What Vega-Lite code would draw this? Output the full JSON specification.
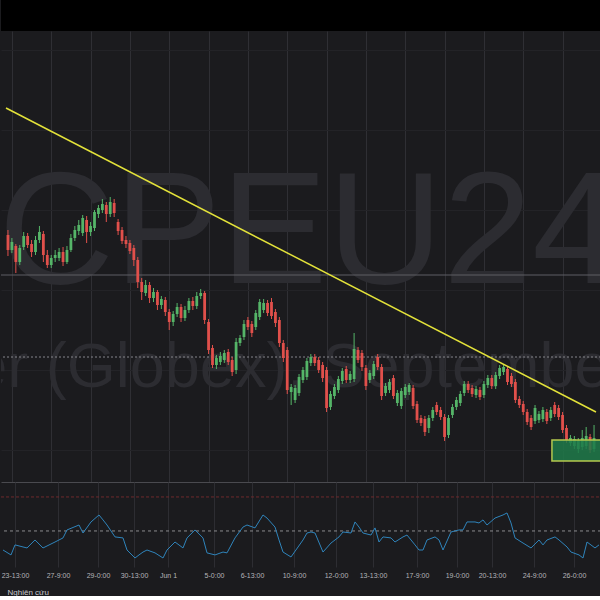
{
  "$schema": "https://vega.github.io/schema/vega-lite/v6.json",
  "padding": 0,
  "spacing": 0,
  "background": "#1b1b1e",
  "config": {
    "view": {"stroke": null},
    "font": "Liberation Sans"
  },
  "datasets": {
    "one": [{"k": 1}],
    "candles": [
      {"i":0,"o":4.965,"h":4.970,"l":4.944,"c":4.950},
      {"i":1,"o":4.950,"h":4.962,"l":4.947,"c":4.958},
      {"i":2,"o":4.954,"h":4.956,"l":4.927,"c":4.938},
      {"i":3,"o":4.938,"h":4.955,"l":4.935,"c":4.952},
      {"i":4,"o":4.953,"h":4.968,"l":4.950,"c":4.964},
      {"i":5,"o":4.964,"h":4.967,"l":4.952,"c":4.955},
      {"i":6,"o":4.956,"h":4.960,"l":4.943,"c":4.948},
      {"i":7,"o":4.948,"h":4.964,"l":4.945,"c":4.960},
      {"i":8,"o":4.960,"h":4.974,"l":4.957,"c":4.968},
      {"i":9,"o":4.966,"h":4.969,"l":4.938,"c":4.945},
      {"i":10,"o":4.945,"h":4.950,"l":4.932,"c":4.935},
      {"i":11,"o":4.935,"h":4.945,"l":4.932,"c":4.942},
      {"i":12,"o":4.942,"h":4.950,"l":4.938,"c":4.945},
      {"i":13,"o":4.942,"h":4.952,"l":4.939,"c":4.948},
      {"i":14,"o":4.948,"h":4.953,"l":4.934,"c":4.938},
      {"i":15,"o":4.938,"h":4.954,"l":4.936,"c":4.950},
      {"i":16,"o":4.950,"h":4.966,"l":4.948,"c":4.962},
      {"i":17,"o":4.962,"h":4.974,"l":4.959,"c":4.970},
      {"i":18,"o":4.969,"h":4.980,"l":4.965,"c":4.975},
      {"i":19,"o":4.967,"h":4.985,"l":4.964,"c":4.982},
      {"i":20,"o":4.980,"h":4.984,"l":4.957,"c":4.968},
      {"i":21,"o":4.968,"h":4.978,"l":4.964,"c":4.974},
      {"i":22,"o":4.972,"h":4.990,"l":4.969,"c":4.988},
      {"i":23,"o":4.986,"h":4.995,"l":4.982,"c":4.992},
      {"i":24,"o":4.990,"h":5.001,"l":4.987,"c":4.996},
      {"i":25,"o":4.995,"h":4.998,"l":4.978,"c":4.986},
      {"i":26,"o":4.986,"h":5.003,"l":4.983,"c":4.998},
      {"i":27,"o":4.997,"h":5.001,"l":4.983,"c":4.987},
      {"i":28,"o":4.978,"h":4.981,"l":4.965,"c":4.969},
      {"i":29,"o":4.970,"h":4.973,"l":4.956,"c":4.959},
      {"i":30,"o":4.960,"h":4.964,"l":4.952,"c":4.956},
      {"i":31,"o":4.957,"h":4.960,"l":4.946,"c":4.949},
      {"i":32,"o":4.952,"h":4.955,"l":4.934,"c":4.940},
      {"i":33,"o":4.940,"h":4.943,"l":4.912,"c":4.918},
      {"i":34,"o":4.918,"h":4.922,"l":4.900,"c":4.908},
      {"i":35,"o":4.907,"h":4.920,"l":4.904,"c":4.915},
      {"i":36,"o":4.915,"h":4.918,"l":4.897,"c":4.902},
      {"i":37,"o":4.902,"h":4.912,"l":4.898,"c":4.908},
      {"i":38,"o":4.908,"h":4.910,"l":4.890,"c":4.895},
      {"i":39,"o":4.895,"h":4.904,"l":4.891,"c":4.901},
      {"i":40,"o":4.900,"h":4.903,"l":4.884,"c":4.888},
      {"i":41,"o":4.888,"h":4.891,"l":4.870,"c":4.878},
      {"i":42,"o":4.878,"h":4.889,"l":4.874,"c":4.886},
      {"i":43,"o":4.886,"h":4.897,"l":4.883,"c":4.893},
      {"i":44,"o":4.893,"h":4.896,"l":4.878,"c":4.882},
      {"i":45,"o":4.882,"h":4.894,"l":4.879,"c":4.890},
      {"i":46,"o":4.890,"h":4.902,"l":4.887,"c":4.899},
      {"i":47,"o":4.899,"h":4.903,"l":4.890,"c":4.894},
      {"i":48,"o":4.894,"h":4.908,"l":4.891,"c":4.904},
      {"i":49,"o":4.904,"h":4.911,"l":4.901,"c":4.907},
      {"i":50,"o":4.907,"h":4.909,"l":4.876,"c":4.880},
      {"i":51,"o":4.878,"h":4.881,"l":4.846,"c":4.850},
      {"i":52,"o":4.852,"h":4.855,"l":4.832,"c":4.835},
      {"i":53,"o":4.835,"h":4.845,"l":4.831,"c":4.842},
      {"i":54,"o":4.838,"h":4.848,"l":4.835,"c":4.844},
      {"i":55,"o":4.840,"h":4.850,"l":4.837,"c":4.847},
      {"i":56,"o":4.848,"h":4.851,"l":4.835,"c":4.838},
      {"i":57,"o":4.840,"h":4.843,"l":4.824,"c":4.828},
      {"i":58,"o":4.830,"h":4.862,"l":4.826,"c":4.858},
      {"i":59,"o":4.857,"h":4.865,"l":4.854,"c":4.862},
      {"i":60,"o":4.863,"h":4.880,"l":4.860,"c":4.876},
      {"i":61,"o":4.880,"h":4.883,"l":4.870,"c":4.873},
      {"i":62,"o":4.876,"h":4.879,"l":4.863,"c":4.867},
      {"i":63,"o":4.873,"h":4.890,"l":4.870,"c":4.887},
      {"i":64,"o":4.883,"h":4.901,"l":4.880,"c":4.898},
      {"i":65,"o":4.890,"h":4.901,"l":4.887,"c":4.897},
      {"i":66,"o":4.897,"h":4.900,"l":4.884,"c":4.887},
      {"i":67,"o":4.898,"h":4.902,"l":4.881,"c":4.884},
      {"i":68,"o":4.888,"h":4.891,"l":4.873,"c":4.877},
      {"i":69,"o":4.880,"h":4.883,"l":4.853,"c":4.857},
      {"i":70,"o":4.857,"h":4.860,"l":4.838,"c":4.842},
      {"i":71,"o":4.850,"h":4.853,"l":4.806,"c":4.810},
      {"i":72,"o":4.808,"h":4.816,"l":4.795,"c":4.813},
      {"i":73,"o":4.800,"h":4.815,"l":4.797,"c":4.812},
      {"i":74,"o":4.807,"h":4.826,"l":4.804,"c":4.823},
      {"i":75,"o":4.820,"h":4.833,"l":4.817,"c":4.830},
      {"i":76,"o":4.823,"h":4.842,"l":4.820,"c":4.839},
      {"i":77,"o":4.837,"h":4.846,"l":4.834,"c":4.843},
      {"i":78,"o":4.843,"h":4.846,"l":4.834,"c":4.837},
      {"i":79,"o":4.840,"h":4.843,"l":4.827,"c":4.830},
      {"i":80,"o":4.835,"h":4.838,"l":4.818,"c":4.822},
      {"i":81,"o":4.830,"h":4.833,"l":4.788,"c":4.792},
      {"i":82,"o":4.793,"h":4.809,"l":4.790,"c":4.806},
      {"i":83,"o":4.804,"h":4.816,"l":4.801,"c":4.813},
      {"i":84,"o":4.810,"h":4.824,"l":4.807,"c":4.821},
      {"i":85,"o":4.819,"h":4.832,"l":4.816,"c":4.829},
      {"i":86,"o":4.831,"h":4.834,"l":4.817,"c":4.820},
      {"i":87,"o":4.820,"h":4.829,"l":4.817,"c":4.826},
      {"i":88,"o":4.821,"h":4.867,"l":4.818,"c":4.851},
      {"i":89,"o":4.850,"h":4.853,"l":4.837,"c":4.840},
      {"i":90,"o":4.847,"h":4.850,"l":4.829,"c":4.833},
      {"i":91,"o":4.832,"h":4.835,"l":4.810,"c":4.814},
      {"i":92,"o":4.820,"h":4.830,"l":4.817,"c":4.827},
      {"i":93,"o":4.824,"h":4.839,"l":4.821,"c":4.836},
      {"i":94,"o":4.843,"h":4.846,"l":4.830,"c":4.833},
      {"i":95,"o":4.833,"h":4.836,"l":4.800,"c":4.804},
      {"i":96,"o":4.807,"h":4.817,"l":4.804,"c":4.814},
      {"i":97,"o":4.810,"h":4.821,"l":4.807,"c":4.818},
      {"i":98,"o":4.822,"h":4.825,"l":4.801,"c":4.804},
      {"i":99,"o":4.797,"h":4.810,"l":4.794,"c":4.807},
      {"i":100,"o":4.794,"h":4.812,"l":4.791,"c":4.809},
      {"i":101,"o":4.805,"h":4.816,"l":4.802,"c":4.813},
      {"i":102,"o":4.808,"h":4.817,"l":4.805,"c":4.815},
      {"i":103,"o":4.812,"h":4.815,"l":4.791,"c":4.794},
      {"i":104,"o":4.796,"h":4.799,"l":4.777,"c":4.780},
      {"i":105,"o":4.782,"h":4.785,"l":4.774,"c":4.777},
      {"i":106,"o":4.781,"h":4.784,"l":4.764,"c":4.768},
      {"i":107,"o":4.772,"h":4.785,"l":4.767,"c":4.782},
      {"i":108,"o":4.782,"h":4.793,"l":4.779,"c":4.790},
      {"i":109,"o":4.795,"h":4.798,"l":4.785,"c":4.788},
      {"i":110,"o":4.790,"h":4.793,"l":4.780,"c":4.783},
      {"i":111,"o":4.783,"h":4.786,"l":4.759,"c":4.763},
      {"i":112,"o":4.765,"h":4.785,"l":4.762,"c":4.782},
      {"i":113,"o":4.785,"h":4.796,"l":4.782,"c":4.793},
      {"i":114,"o":4.793,"h":4.803,"l":4.790,"c":4.800},
      {"i":115,"o":4.797,"h":4.809,"l":4.794,"c":4.806},
      {"i":116,"o":4.807,"h":4.819,"l":4.804,"c":4.816},
      {"i":117,"o":4.816,"h":4.819,"l":4.807,"c":4.810},
      {"i":118,"o":4.812,"h":4.815,"l":4.803,"c":4.806},
      {"i":119,"o":4.805,"h":4.814,"l":4.802,"c":4.811},
      {"i":120,"o":4.810,"h":4.813,"l":4.800,"c":4.803},
      {"i":121,"o":4.805,"h":4.819,"l":4.802,"c":4.816},
      {"i":122,"o":4.815,"h":4.825,"l":4.812,"c":4.822},
      {"i":123,"o":4.822,"h":4.825,"l":4.811,"c":4.814},
      {"i":124,"o":4.814,"h":4.828,"l":4.811,"c":4.825},
      {"i":125,"o":4.824,"h":4.835,"l":4.821,"c":4.832},
      {"i":126,"o":4.828,"h":4.836,"l":4.825,"c":4.833},
      {"i":127,"o":4.831,"h":4.834,"l":4.815,"c":4.818},
      {"i":128,"o":4.824,"h":4.827,"l":4.813,"c":4.816},
      {"i":129,"o":4.818,"h":4.821,"l":4.797,"c":4.800},
      {"i":130,"o":4.801,"h":4.804,"l":4.792,"c":4.795},
      {"i":131,"o":4.796,"h":4.799,"l":4.785,"c":4.788},
      {"i":132,"o":4.788,"h":4.791,"l":4.775,"c":4.778},
      {"i":133,"o":4.782,"h":4.785,"l":4.770,"c":4.773},
      {"i":134,"o":4.779,"h":4.795,"l":4.776,"c":4.792},
      {"i":135,"o":4.780,"h":4.789,"l":4.777,"c":4.786},
      {"i":136,"o":4.781,"h":4.793,"l":4.778,"c":4.790},
      {"i":137,"o":4.788,"h":4.791,"l":4.776,"c":4.779},
      {"i":138,"o":4.782,"h":4.793,"l":4.779,"c":4.790},
      {"i":139,"o":4.795,"h":4.798,"l":4.783,"c":4.786},
      {"i":140,"o":4.792,"h":4.795,"l":4.780,"c":4.783},
      {"i":141,"o":4.785,"h":4.788,"l":4.767,"c":4.770},
      {"i":142,"o":4.772,"h":4.775,"l":4.757,"c":4.760},
      {"i":143,"o":4.757,"h":4.765,"l":4.754,"c":4.762},
      {"i":144,"o":4.754,"h":4.764,"l":4.751,"c":4.761},
      {"i":145,"o":4.751,"h":4.762,"l":4.747,"c":4.759},
      {"i":146,"o":4.753,"h":4.770,"l":4.750,"c":4.762},
      {"i":147,"o":4.754,"h":4.773,"l":4.751,"c":4.764},
      {"i":148,"o":4.763,"h":4.766,"l":4.747,"c":4.750},
      {"i":149,"o":4.751,"h":4.775,"l":4.748,"c":4.762}
    ],
    "osc": [
      {"i":0,"v":38.8},{"i":2,"v":35.9},{"i":3,"v":41.8},{"i":5,"v":40.6},{"i":6,"v":40.0},
      {"i":8,"v":44.7},{"i":10,"v":40.0},{"i":13,"v":43.5},{"i":15,"v":45.9},{"i":16,"v":50.6},
      {"i":19,"v":53.5},{"i":20,"v":48.8},{"i":22,"v":55.3},{"i":24,"v":59.4},{"i":25,"v":56.5},
      {"i":26,"v":53.5},{"i":28,"v":46.5},{"i":30,"v":45.9},{"i":31,"v":38.8},{"i":33,"v":34.1},
      {"i":34,"v":35.9},{"i":35,"v":37.6},{"i":36,"v":38.8},{"i":38,"v":37.1},{"i":40,"v":34.1},
      {"i":41,"v":38.8},{"i":43,"v":43.5},{"i":45,"v":40.0},{"i":46,"v":45.9},{"i":48,"v":50.6},
      {"i":50,"v":45.9},{"i":51,"v":37.1},{"i":53,"v":35.9},{"i":55,"v":37.6},{"i":56,"v":37.1},
      {"i":58,"v":45.9},{"i":60,"v":52.3},{"i":61,"v":53.5},{"i":63,"v":51.8},{"i":65,"v":59.4},
      {"i":66,"v":57.6},{"i":68,"v":52.3},{"i":69,"v":44.7},{"i":70,"v":37.6},{"i":72,"v":34.7},
      {"i":75,"v":44.7},{"i":76,"v":48.8},{"i":77,"v":49.4},{"i":78,"v":48.8},{"i":80,"v":37.6},
      {"i":82,"v":42.9},{"i":84,"v":46.5},{"i":85,"v":49.4},{"i":87,"v":48.8},{"i":88,"v":55.3},
      {"i":89,"v":52.3},{"i":90,"v":48.8},{"i":92,"v":47.6},{"i":93,"v":51.8},{"i":94,"v":43.5},
      {"i":95,"v":46.5},{"i":97,"v":45.9},{"i":98,"v":43.5},{"i":100,"v":46.5},{"i":101,"v":47.6},
      {"i":103,"v":41.8},{"i":104,"v":38.8},{"i":105,"v":38.8},{"i":106,"v":44.7},{"i":108,"v":46.5},
      {"i":109,"v":44.7},{"i":110,"v":38.8},{"i":112,"v":49.4},{"i":114,"v":50.6},{"i":115,"v":50.6},
      {"i":116,"v":55.3},{"i":118,"v":55.3},{"i":119,"v":54.7},{"i":120,"v":56.5},{"i":121,"v":53.5},
      {"i":123,"v":57.6},{"i":125,"v":59.4},{"i":126,"v":60.6},{"i":127,"v":54.7},{"i":128,"v":45.9},
      {"i":130,"v":42.9},{"i":132,"v":40.0},{"i":134,"v":44.7},{"i":135,"v":41.8},{"i":136,"v":44.7},
      {"i":138,"v":46.5},{"i":139,"v":44.7},{"i":141,"v":40.6},{"i":142,"v":37.6},{"i":144,"v":35.9},
      {"i":145,"v":34.1},{"i":146,"v":43.5},{"i":148,"v":40.0},{"i":149,"v":41.8}
    ],
    "trend": [
      {"i":-0.5,"p":5.092},
      {"i":149.5,"p":4.788}
    ],
    "zone": [
      {"i1":138.3,"i2":152,"p1":4.760,"p2":4.739}
    ]
  },
  "vconcat": [
    {
      "width": 600,
      "height": 31,
      "view": {"fill": "#000000", "stroke": null},
      "data": {"name": "one"},
      "mark": {"type": "text", "text": ""}
    },
    {
      "width": 600,
      "height": 451,
      "layer": [
        {
          "data": {"name": "one"},
          "mark": {"type": "text", "text": "CPEU24", "font": "Liberation Sans", "fontSize": 160, "color": "#2c2c31", "align": "center", "baseline": "alphabetic", "clip": true},
          "encoding": {
            "x": {"datum": 76.75, "type": "quantitative", "scale": {"domain": [-0.5, 149.5], "nice": false, "zero": false},
              "axis": {"labels": false, "ticks": false, "title": null, "domain": true, "domainColor": "#4a4a4f",
                "grid": true, "gridColor": "#2f2f34", "gridWidth": 1,
                "values": [1,3.5,6,8.5,11,13.5,16,18.5,21,23.5,26,28.5,31,33.5,36,38.5,41,43.5,46,48.5,51,53.5,56,58.5,61,63.5,66,68.5,71,73.5,76,78.5,81,83.5,86,88.5,91,93.5,96,98.5,101,103.5,106,108.5,111,113.5,116,118.5,121,123.5,126,128.5,131,133.5,136,138.5,141,143.5,146,148.5]}},
            "y": {"datum": 4.917, "type": "quantitative", "scale": {"domain": [4.718, 5.169], "nice": false, "zero": false},
              "axis": {"labels": false, "ticks": false, "title": null, "domain": false, "grid": true, "gridColor": "#232327",
                "values": [4.75, 4.83, 4.91, 4.99, 5.07, 5.15]}}
          }
        },
        {
          "data": {"name": "one"},
          "mark": {"type": "text", "text": "Copper (Globex), September 2024", "font": "Liberation Sans", "fontSize": 63, "color": "#2c2c31", "align": "center", "baseline": "alphabetic", "clip": true},
          "encoding": {
            "x": {"datum": 75.5, "type": "quantitative"},
            "y": {"datum": 4.813, "type": "quantitative"}
          }
        },
        {
          "data": {"name": "one"},
          "mark": {"type": "rule", "color": "#5e5e64", "strokeWidth": 1},
          "encoding": {"y": {"datum": 4.925, "type": "quantitative"}}
        },
        {
          "data": {"name": "one"},
          "mark": {"type": "rule", "color": "#85858b", "strokeWidth": 1, "strokeDash": [2, 2]},
          "encoding": {"y": {"datum": 4.843, "type": "quantitative"}}
        },
        {
          "data": {"name": "candles"},
          "mark": {"type": "rule", "strokeWidth": 1},
          "encoding": {
            "x": {"field": "i", "type": "quantitative"},
            "y": {"field": "l", "type": "quantitative"},
            "y2": {"field": "h"},
            "color": {"condition": {"test": "datum.c < datum.o", "value": "#e1504b"}, "value": "#55b568"}
          }
        },
        {
          "data": {"name": "candles"},
          "mark": {"type": "bar", "width": 2.8, "orient": "vertical"},
          "encoding": {
            "x": {"field": "i", "type": "quantitative"},
            "y": {"field": "o", "type": "quantitative"},
            "y2": {"field": "c"},
            "color": {"condition": {"test": "datum.c < datum.o", "value": "#e1504b"}, "value": "#55b568"}
          }
        },
        {
          "data": {"name": "zone"},
          "mark": {"type": "rect", "fill": "#1f7a4a", "fillOpacity": 0.85, "stroke": "#b4c84e", "strokeWidth": 1.5, "clip": true},
          "encoding": {
            "x": {"field": "i1", "type": "quantitative"},
            "x2": {"field": "i2"},
            "y": {"field": "p1", "type": "quantitative"},
            "y2": {"field": "p2"}
          }
        },
        {
          "data": {"name": "trend"},
          "mark": {"type": "line", "color": "#e3e23a", "strokeWidth": 1.5, "clip": true},
          "encoding": {
            "x": {"field": "i", "type": "quantitative"},
            "y": {"field": "p", "type": "quantitative"}
          }
        }
      ]
    },
    {
      "width": 600,
      "height": 85,
      "layer": [
        {
          "data": {"name": "one"},
          "mark": {"type": "rule", "color": "#6e2a2d", "strokeWidth": 1, "strokeDash": [3, 2]},
          "encoding": {
            "y": {"datum": 70, "type": "quantitative", "scale": {"domain": [28.8, 78.8], "nice": false, "zero": false}, "axis": null},
            "x": {"datum": -0.5, "type": "quantitative", "scale": {"domain": [-0.5, 149.5], "nice": false, "zero": false},
              "axis": {
                "values": [3, 13.75, 23.75, 32.75, 41.25, 52.75, 62.25, 72.75, 83.25, 92.5, 103.5, 113.5, 122.25, 132.75, 142.75],
                "labelExpr": "['23-13:00','27-9:00','29-0:00','30-13:00','Jun 1','5-0:00','6-13:00','10-9:00','12-0:00','13-13:00','17-9:00','19-0:00','20-13:00','24-9:00','26-0:00'][indexof([3,13.75,23.75,32.75,41.25,52.75,62.25,72.75,83.25,92.5,103.5,113.5,122.25,132.75,142.75], datum.value)]",
                "labelFontSize": 7, "labelColor": "#b4b4b8", "labelPadding": 4, "labelOverlap": false, "labelFont": "Liberation Sans",
                "ticks": false, "domain": false,
                "grid": true, "gridColor": "#2d2d32",
                "title": "Nghiên cứu", "titleFontSize": 8, "titleFontWeight": "normal", "titleColor": "#c8c8cc",
                "titleAnchor": "start", "titleAlign": "left", "titleX": 6, "titleY": 25, "titleBaseline": "middle", "titleFont": "Liberation Sans"
              }},
            "x2": {"datum": 149.5}
          }
        },
        {
          "data": {"name": "one"},
          "mark": {"type": "rule", "color": "#8a8a8e", "strokeWidth": 1, "strokeDash": [3, 3]},
          "encoding": {
            "y": {"datum": 50, "type": "quantitative"}
          }
        },
        {
          "data": {"name": "osc"},
          "mark": {"type": "line", "color": "#2f84bb", "strokeWidth": 1, "clip": true},
          "encoding": {
            "x": {"field": "i", "type": "quantitative"},
            "y": {"field": "v", "type": "quantitative"}
          }
        }
      ]
    }
  ]
}
